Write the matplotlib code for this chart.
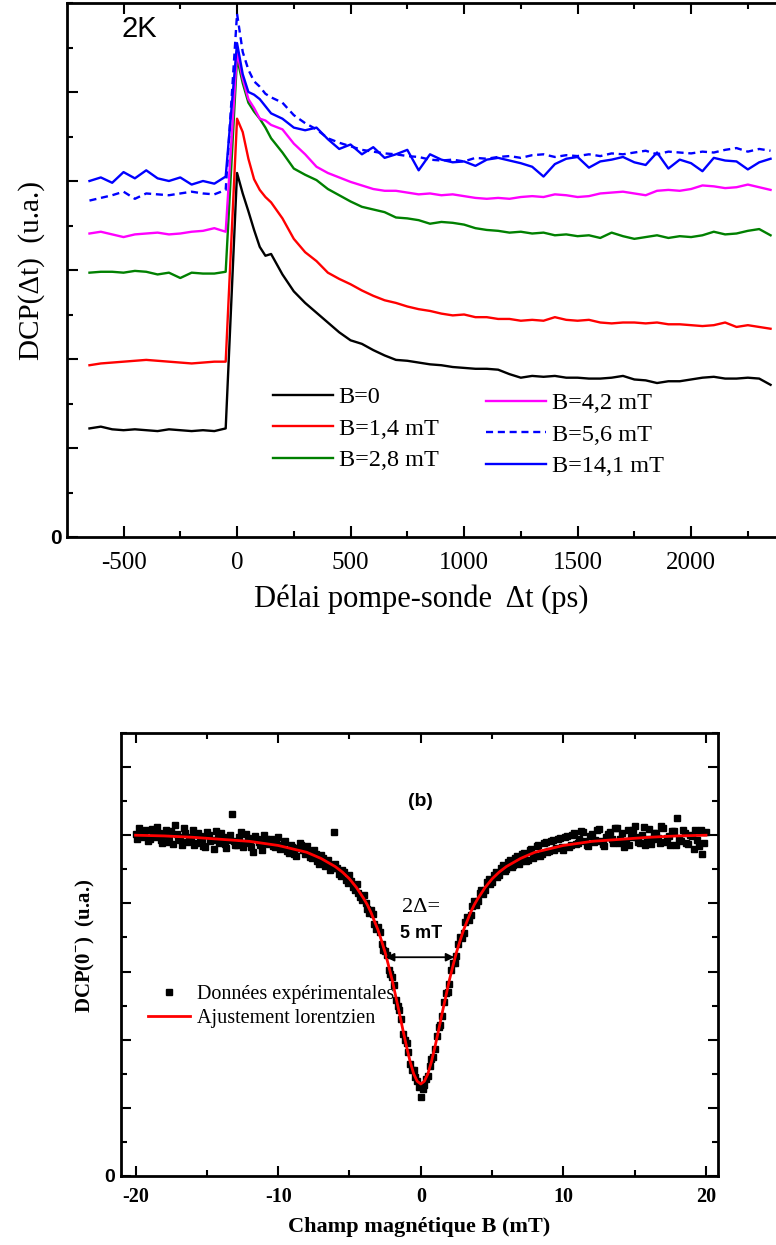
import numpy as np
import matplotlib
matplotlib.use("Agg")
import matplotlib.pyplot as plt
from matplotlib.ticker import MultipleLocator, FixedLocator, FixedFormatter

plt.rcParams['font.family'] = ['Liberation Serif', 'DejaVu Serif']
plt.rcParams['axes.unicode_minus'] = False
plt.rcParams['mathtext.fontset'] = 'custom'
plt.rcParams['mathtext.rm'] = 'Liberation Serif'
plt.rcParams['mathtext.bf'] = 'Liberation Serif:bold'

# ---- panel (a): DCP vs pump-probe delay ----
t_ps = [-650, -600, -550, -500, -450, -400, -350, -300, -250, -200, -150, -100, -50,
        0, 25, 50, 75, 100, 125, 150,
        200, 250, 300, 350, 400, 450, 500, 550, 600, 650, 700, 750, 800, 850, 900, 950,
        1000, 1050, 1100, 1150, 1200, 1250, 1300, 1350, 1400, 1450, 1500, 1550, 1600, 1650,
        1700, 1750, 1800, 1850, 1900, 1950, 2000, 2050, 2100, 2150, 2200, 2250, 2300, 2350]

dcp_b0 = [1.22, 1.24, 1.21, 1.20, 1.21, 1.20, 1.19, 1.21, 1.20, 1.19, 1.20, 1.19, 1.22,
          4.09, 3.86, 3.66, 3.45, 3.26, 3.16, 3.18,
          2.95, 2.76, 2.63, 2.52, 2.41, 2.30, 2.21, 2.17, 2.10, 2.04, 1.99, 1.98, 1.96, 1.94, 1.93, 1.91,
          1.90, 1.89, 1.89, 1.88, 1.83, 1.79, 1.81, 1.80, 1.81, 1.79, 1.79, 1.78, 1.78, 1.79,
          1.81, 1.77, 1.76, 1.73, 1.75, 1.75, 1.77, 1.79, 1.80, 1.78, 1.78, 1.79, 1.78, 1.71]
dcp_b14 = [1.93, 1.95, 1.96, 1.97, 1.98, 1.99, 1.98, 1.97, 1.96, 1.95, 1.96, 1.97, 1.97,
           4.70, 4.55, 4.25, 4.02, 3.90, 3.82, 3.76,
           3.58, 3.35, 3.20, 3.10, 2.97, 2.90, 2.84, 2.77, 2.71, 2.66, 2.63, 2.59, 2.56, 2.54, 2.51, 2.49,
           2.50, 2.47, 2.47, 2.45, 2.45, 2.43, 2.44, 2.43, 2.47, 2.44, 2.43, 2.44, 2.41, 2.40,
           2.41, 2.41, 2.40, 2.41, 2.39, 2.39, 2.38, 2.37, 2.38, 2.41, 2.36, 2.38, 2.36, 2.34]
dcp_b28 = [2.97, 2.98, 2.98, 2.97, 2.99, 2.98, 2.95, 2.97, 2.91, 2.97, 2.96, 2.96, 2.98,
           5.38, 5.10, 4.88, 4.78, 4.70, 4.60, 4.48,
           4.32, 4.14, 4.07, 4.01, 3.91, 3.84, 3.77, 3.71, 3.68, 3.65, 3.59, 3.58, 3.56, 3.52, 3.54, 3.53,
           3.51, 3.47, 3.45, 3.44, 3.42, 3.43, 3.41, 3.42, 3.39, 3.40, 3.38, 3.39, 3.36, 3.42,
           3.38, 3.35, 3.37, 3.39, 3.36, 3.38, 3.37, 3.39, 3.43, 3.40, 3.41, 3.44, 3.46, 3.39]
dcp_b42 = [3.41, 3.43, 3.40, 3.37, 3.40, 3.41, 3.42, 3.40, 3.41, 3.43, 3.44, 3.47, 3.43,
           5.45, 5.15, 4.92, 4.82, 4.70, 4.68, 4.63,
           4.58, 4.42, 4.30, 4.16, 4.09, 4.04, 3.99, 3.95, 3.91, 3.89, 3.89, 3.87, 3.85, 3.86, 3.84, 3.85,
           3.83, 3.81, 3.80, 3.81, 3.80, 3.82, 3.83, 3.82, 3.85, 3.84, 3.82, 3.83, 3.86, 3.87,
           3.88, 3.86, 3.84, 3.89, 3.90, 3.89, 3.91, 3.95, 3.94, 3.92, 3.93, 3.96, 3.93, 3.90]
dcp_b56 = [3.78, 3.81, 3.84, 3.88, 3.80, 3.86, 3.85, 3.84, 3.86, 3.88, 3.86, 3.85, 3.90,
           5.88, 5.45, 5.25, 5.12, 5.06, 4.98, 4.94,
           4.88, 4.74, 4.65, 4.58, 4.48, 4.43, 4.39, 4.35, 4.33, 4.31, 4.30, 4.28, 4.27, 4.24, 4.23, 4.24,
           4.22, 4.26, 4.25, 4.27, 4.28, 4.26, 4.29, 4.30, 4.27, 4.29, 4.28, 4.30, 4.28, 4.31,
           4.30, 4.32, 4.34, 4.30, 4.33, 4.32, 4.31, 4.33, 4.32, 4.35, 4.37, 4.33, 4.36, 4.34]
dcp_b141 = [4.00, 4.04, 3.98, 4.10, 4.03, 4.12, 4.03, 4.00, 4.04, 3.96, 4.00, 3.97, 4.05,
            5.55, 5.20, 5.00, 4.97, 4.92, 4.84, 4.76,
            4.70, 4.60, 4.57, 4.60, 4.47, 4.36, 4.41, 4.30, 4.38, 4.26, 4.30, 4.35, 4.12, 4.30, 4.24, 4.21,
            4.22, 4.17, 4.24, 4.26, 4.23, 4.20, 4.16, 4.05, 4.19, 4.25, 4.27, 4.15, 4.22, 4.24,
            4.27, 4.21, 4.18, 4.32, 4.14, 4.24, 4.20, 4.11, 4.26, 4.23, 4.22, 4.13, 4.21, 4.25]

series_a = [
    ("B=0", dcp_b0, "black", "-"),
    ("B=1,4 mT", dcp_b14, "red", "-"),
    ("B=2,8 mT", dcp_b28, "green", "-"),
    ("B=4,2 mT", dcp_b42, "magenta", "-"),
    ("B=5,6 mT", dcp_b56, "blue", "--"),
    ("B=14,1 mT", dcp_b141, "blue", "-"),
]

# ---- panel (b): DCP(0-) vs magnetic field ----
b_field = [-20.0, -19.75, -19.5, -19.25, -19.0, -18.75, -18.5, -18.25, -18.0, -17.75, -17.5, -17.25,
           -17.0, -16.75, -16.5, -16.25, -16.0, -15.75, -15.5, -15.25, -15.0, -14.75, -14.5, -14.25,
           -14.0, -13.75, -13.5, -13.25, -13.0, -12.75, -12.5, -12.25, -12.0, -11.75, -11.5, -11.25,
           -11.0, -10.75, -10.5, -10.25, -10.0, -9.75, -9.5, -9.25, -9.0, -8.75, -8.5, -8.25,
           -8.0, -7.75, -7.5, -7.25, -7.0, -6.75, -6.5, -6.25, -6.1, -6.0, -5.75, -5.5, -5.25,
           -5.0, -4.75, -4.5, -4.25, -4.0, -3.75, -3.5, -3.25, -3.0, -2.75, -2.5, -2.25,
           -2.0, -1.75, -1.5, -1.25, -1.0, -0.75, -0.5, -0.25, 0.0, 0.25, 0.5, 0.75,
           1.0, 1.25, 1.5, 1.75, 2.0, 2.25, 2.5, 2.75, 3.0, 3.25, 3.5, 3.75,
           4.0, 4.25, 4.5, 4.75, 5.0, 5.25, 5.5, 5.75, 6.0, 6.25, 6.5, 6.75,
           7.0, 7.25, 7.5, 7.75, 8.0, 8.25, 8.5, 8.75, 9.0, 9.25, 9.5, 9.75,
           10.0, 10.25, 10.5, 10.75, 11.0, 11.25, 11.5, 11.75, 12.0, 12.25, 12.5, 12.75,
           13.0, 13.25, 13.5, 13.75, 14.0, 14.25, 14.5, 14.75, 15.0, 15.25, 15.5, 15.75,
           16.0, 16.25, 16.5, 16.75, 17.0, 17.25, 17.5, 17.75, 18.0, 18.25, 18.5, 18.75,
           19.0, 19.25, 19.5, 19.75, 20.0]
dcp0 = [5.02, 5.10, 4.98, 5.08, 4.95, 5.04, 5.12, 4.93, 5.01, 4.90, 5.06, 5.15,
        4.97, 4.85, 5.03, 4.92, 5.07, 4.88, 4.99, 4.84, 5.05, 4.91, 4.80, 4.96,
        5.04, 4.87, 4.93, 5.31, 4.86, 4.98, 4.83, 5.02, 4.90, 4.76, 4.94, 4.85,
        5.00, 4.89, 4.95, 4.82, 4.97, 4.86, 4.92, 4.74, 4.83, 4.70, 4.88, 4.78,
        4.84, 4.68, 4.79, 4.62, 4.71, 4.55, 4.64, 4.52, 5.05, 4.58, 4.43, 4.49, 4.35,
        4.42, 4.24, 4.28, 4.10, 4.12, 3.92, 3.90, 3.70, 3.66, 3.40, 3.30, 3.02,
        2.92, 2.58, 2.44, 2.08, 1.95, 1.64, 1.55, 1.40, 1.16, 1.33, 1.47, 1.72,
        1.86, 2.19, 2.35, 2.68, 2.82, 3.12, 3.23, 3.50, 3.57, 3.80, 3.83, 4.03,
        4.04, 4.20, 4.19, 4.36, 4.32, 4.46, 4.42, 4.56, 4.50, 4.64, 4.57, 4.70,
        4.62, 4.74, 4.63, 4.80, 4.69, 4.85, 4.73, 4.90, 4.77, 4.93, 4.81, 4.96,
        4.79, 4.99, 4.86, 5.03, 4.88, 5.06, 4.91, 4.84, 5.02, 4.93, 5.09, 4.87,
        4.98, 5.05, 4.89, 5.11, 4.95, 4.83, 5.07, 4.97, 5.13, 4.90, 5.01, 4.86,
        5.09, 4.94, 5.04, 4.88, 5.10, 4.96, 4.85, 5.06, 5.25, 4.92, 5.03, 4.87,
        4.99, 5.08, 4.84, 4.72, 5.05]

# second sweep, interleaved between the first one
b_field2 = [-19.875, -19.625, -19.375, -19.125, -18.875, -18.625, -18.375, -18.125,
            -17.875, -17.625, -17.375, -17.125, -16.875, -16.625, -16.375, -16.125,
            -15.875, -15.625, -15.375, -15.125, -14.875, -14.625, -14.375, -14.125,
            -13.875, -13.625, -13.375, -13.125, -12.875, -12.625, -12.375, -12.125,
            -11.875, -11.625, -11.375, -11.125, -10.875, -10.625, -10.375, -10.125,
            -9.875, -9.625, -9.375, -9.125, -8.875, -8.625, -8.375, -8.125,
            -7.875, -7.625, -7.375, -7.125, -6.875, -6.625, -6.375, -6.125,
            -5.875, -5.625, -5.375, -5.125, -4.875, -4.625, -4.375, -4.125,
            -3.875, -3.625, -3.375, -3.125, -2.875, -2.625, -2.375, -2.125,
            -1.875, -1.625, -1.375, -1.125, -0.875, -0.625, -0.375, -0.125,
            0.125, 0.375, 0.625, 0.875, 1.125, 1.375, 1.625, 1.875,
            2.125, 2.375, 2.625, 2.875, 3.125, 3.375, 3.625, 3.875,
            4.125, 4.375, 4.625, 4.875, 5.125, 5.375, 5.625, 5.875,
            6.125, 6.375, 6.625, 6.875, 7.125, 7.375, 7.625, 7.875,
            8.125, 8.375, 8.625, 8.875, 9.125, 9.375, 9.625, 9.875,
            10.125, 10.375, 10.625, 10.875, 11.125, 11.375, 11.625, 11.875,
            12.125, 12.375, 12.625, 12.875, 13.125, 13.375, 13.625, 13.875,
            14.125, 14.375, 14.625, 14.875, 15.125, 15.375, 15.625, 15.875,
            16.125, 16.375, 16.625, 16.875, 17.125, 17.375, 17.625, 17.875,
            18.125, 18.375, 18.625, 18.875, 19.125, 19.375, 19.625, 19.875]
dcp0_2 = [4.94, 5.06, 5.00, 4.91, 5.09, 4.97, 5.03, 4.89,
          5.08, 4.95, 4.87, 5.02, 4.93, 5.11, 4.90, 4.98,
          4.86, 5.04, 4.95, 4.82, 5.00, 4.93, 5.06, 4.88,
          4.97, 4.81, 5.01, 4.92, 4.86, 5.05, 4.89, 4.96,
          4.83, 4.99, 4.90, 4.79, 4.95, 4.87, 4.84, 4.93,
          4.80, 4.90, 4.77, 4.85, 4.73, 4.81, 4.86, 4.72,
          4.76, 4.66, 4.73, 4.58, 4.67, 4.60, 4.49, 4.55,
          4.52, 4.40, 4.46, 4.30, 4.33, 4.20, 4.15, 4.05,
          4.00, 3.86, 3.84, 3.62, 3.58, 3.32, 3.24, 2.97,
          2.80, 2.49, 2.30, 2.00, 1.82, 1.56, 1.45, 1.30,
          1.28, 1.42, 1.62, 1.74, 2.05, 2.22, 2.55, 2.70,
          3.02, 3.12, 3.40, 3.49, 3.72, 3.76, 3.96, 3.98,
          4.15, 4.14, 4.31, 4.29, 4.41, 4.39, 4.52, 4.47,
          4.60, 4.53, 4.67, 4.58, 4.72, 4.62, 4.78, 4.66,
          4.84, 4.70, 4.88, 4.75, 4.91, 4.78, 4.95, 4.82,
          4.97, 4.83, 5.01, 4.87, 4.94, 5.05, 4.85, 4.99,
          4.90, 5.07, 4.92, 4.84, 5.02, 4.95, 5.10, 4.88,
          5.04, 4.92, 4.86, 5.08, 4.98, 4.89, 5.12, 4.94,
          4.87, 5.03, 4.96, 5.14, 4.90, 4.99, 5.06, 4.85,
          4.95, 5.08, 4.88, 5.01, 4.80, 4.93, 5.07, 4.89]

b_fit = [-20, -18, -16, -14, -12, -10, -9, -8, -7, -6, -5.5, -5, -4.5, -4, -3.75, -3.5, -3.25,
         -3, -2.75, -2.5, -2.25, -2, -1.75, -1.5, -1.25, -1, -0.75, -0.5, -0.25, 0,
         0.25, 0.5, 0.75, 1, 1.25, 1.5, 1.75, 2, 2.25, 2.5, 2.75, 3, 3.25, 3.5, 3.75,
         4, 4.5, 5, 5.5, 6, 7, 8, 9, 10, 12, 14, 16, 18, 20]
dcp_fit = [5.00, 4.99, 4.97, 4.94, 4.91, 4.85, 4.80, 4.75, 4.66, 4.54, 4.46, 4.36, 4.23, 4.07, 3.98, 3.87, 3.74,
           3.61, 3.45, 3.28, 3.08, 2.87, 2.63, 2.39, 2.14, 1.90, 1.68, 1.50, 1.39, 1.35,
           1.39, 1.50, 1.68, 1.90, 2.14, 2.39, 2.63, 2.87, 3.08, 3.28, 3.45, 3.61, 3.74, 3.87, 3.98,
           4.07, 4.23, 4.36, 4.46, 4.54, 4.66, 4.75, 4.80, 4.85, 4.91, 4.94, 4.97, 4.99, 5.00]

W, H = 776, 1245
fig = plt.figure(figsize=(W / 100, H / 100), dpi=100)

def box(l, t, r, b):
    return [l / W, 1 - b / H, (r - l) / W, (b - t) / H]

# ---------------- panel (a) ----------------
ax1 = fig.add_axes(box(67, 3, 776, 537))
for lab, y, c, ls in series_a:
    ax1.plot(t_ps, y, color=c, ls=ls, lw=1.7, label=lab,
             dashes=(3, 2) if ls == "--" else (None, None))
ax1.set_xlim(-749, 2374)
ax1.set_ylim(0, 6)
ax1.xaxis.set_major_locator(MultipleLocator(500))
ax1.xaxis.set_minor_locator(MultipleLocator(250))
ax1.yaxis.set_major_locator(FixedLocator([0, 1, 2, 3, 4, 5]))
ax1.yaxis.set_major_formatter(FixedFormatter(["0", "", "", "", "", ""]))
ax1.yaxis.set_minor_locator(MultipleLocator(0.5))
ax1.tick_params(which="both", direction="in", top=True, right=False, width=1.5)
ax1.tick_params(which="major", length=8)
ax1.tick_params(which="minor", length=4)
ax1.tick_params(axis="x", labelsize=18, pad=11)
ax1.tick_params(axis="y", pad=4)
for lab in ax1.get_yticklabels():
    lab.set_family("Liberation Sans")
    lab.set_fontweight("bold")
    lab.set_fontsize(15)
for s in ["left", "bottom", "top"]:
    ax1.spines[s].set_linewidth(2)
ax1.spines["right"].set_visible(False)
ax1.set_xlabel("Délai pompe-sonde  Δt (ps)", fontsize=22, labelpad=7)
ax1.set_ylabel("DCP(Δt)  (u.a.)", fontsize=21)
ax1.yaxis.set_label_coords(-0.031, 0.5)
ax1.text(0.077, 0.978, "2K", transform=ax1.transAxes, family="Liberation Sans",
         fontsize=21, va="top", ha="left")

h, l = ax1.get_legend_handles_labels()
leg_kw = dict(frameon=False, fontsize=17.5, handlelength=2.45, handletextpad=0.25,
              labelspacing=0.40, borderpad=0, borderaxespad=0, loc="upper left")
leg1 = ax1.legend(h[:3], l[:3], bbox_to_anchor=((273 - 67) / 709, (537 - 386) / 534), **leg_kw)
ax1.add_artist(leg1)
ax1.legend(h[3:], l[3:], bbox_to_anchor=((486 - 67) / 709, (537 - 392) / 534), **leg_kw)

# ---------------- panel (b) ----------------
ax2 = fig.add_axes(box(121, 733, 718, 1176))
ax2.plot(b_field, dcp0, ls="none", marker="s", ms=4.3, color="black",
         label="Données expérimentales")
ax2.plot(b_field2, dcp0_2, ls="none", marker="s", ms=4.3, color="black")
ax2.plot(b_fit, dcp_fit, color="red", lw=2, label="Ajustement lorentzien")
ax2.set_xlim(-21.02, 20.84)
ax2.set_ylim(0, 6.5)
ax2.xaxis.set_major_locator(MultipleLocator(10))
ax2.xaxis.set_minor_locator(MultipleLocator(5))
ax2.yaxis.set_major_locator(FixedLocator([0, 1, 2, 3, 4, 5, 6]))
ax2.yaxis.set_major_formatter(FixedFormatter(["0", "", "", "", "", "", ""]))
ax2.yaxis.set_minor_locator(MultipleLocator(0.5))
ax2.tick_params(which="both", direction="in", top=True, right=True, width=1.5)
ax2.tick_params(which="major", length=7)
ax2.tick_params(which="minor", length=4)
ax2.tick_params(axis="x", labelsize=14.5, pad=8)
ax2.tick_params(axis="y", pad=4)
for lab in ax2.get_xticklabels():
    lab.set_fontweight("bold")
for lab in ax2.get_yticklabels():
    lab.set_family("Liberation Sans")
    lab.set_fontweight("bold")
    lab.set_fontsize(14)
for s in ax2.spines.values():
    s.set_linewidth(2)
ax2.set_xlabel("Champ magnétique B (mT)", fontsize=16, fontweight="bold", labelpad=7)
ax2.set_ylabel(r"DCP(0$^{\mathbf{-}}$)  (u.a.)", fontsize=15, fontweight="bold")
ax2.yaxis.set_label_coords(-0.040, 0.52)

ax2.text(0.0, 5.5, "(b)", family="Liberation Sans", fontweight="bold", fontsize=14,
         ha="center", va="center")
ax2.text(0.0, 3.94, "2Δ=", fontsize=16, ha="center", va="center")
ax2.text(0.0, 3.56, "5 mT", family="Liberation Sans", fontweight="bold", fontsize=13,
         ha="center", va="center")
ax2.annotate("", xy=(-2.45, 3.21), xytext=(2.35, 3.21),
             arrowprops=dict(arrowstyle="<|-|>", color="black", lw=1.3,
                             mutation_scale=12, shrinkA=0, shrinkB=0))

ax2.legend(frameon=False, fontsize=14.5, handlelength=2.1, handletextpad=0.35,
           labelspacing=0.22, borderpad=0, borderaxespad=0, loc="upper left",
           bbox_to_anchor=((148 - 121) / 597, (1176 - 985) / 443))

fig.savefig("out.png", dpi=100)
